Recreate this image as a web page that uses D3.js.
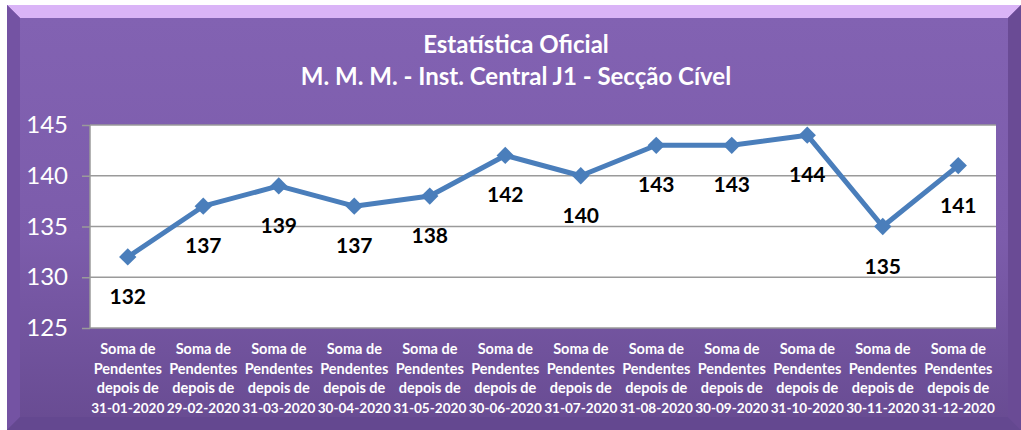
<!DOCTYPE html>
<html>
<head>
<meta charset="utf-8">
<script src="https://cdn.jsdelivr.net/npm/d3@7"></script>
<style>
  body { margin: 0; background: #ffffff; }
  svg { display: block; font-family: Lato, "Open Sans", sans-serif; }
</style>
</head>
<body>
<div id="chart"></div>
<script>
const title_lines = ['Estatística Oficial', 'M. M. M. - Inst. Central J1 - Secção Cível']
const dates = ['31-01-2020', '29-02-2020', '31-03-2020', '30-04-2020', '31-05-2020', '30-06-2020',
    '31-07-2020', '31-08-2020', '30-09-2020', '31-10-2020', '30-11-2020', '31-12-2020']
const pendentes = [132, 137, 139, 137, 138, 142, 140, 143, 143, 144, 135, 141]
const y_ticks = [125, 130, 135, 140, 145]

const width = 1021, height = 430
const margin = ({ top: 125, right: 25, bottom: 103, left: 90 })

const svg = d3.select('#chart')
    .append('svg')
    .attr('width', width)
    .attr('height', height)

const defs = svg.append('defs')
const grad = defs.append('linearGradient')
    .attr('id', 'face')
    .attr('x1', 0).attr('y1', 0).attr('x2', 0).attr('y2', 1)
grad.append('stop').attr('offset', '0%').attr('stop-color', '#8262b2')
grad.append('stop').attr('offset', '55%').attr('stop-color', '#7c5cab')
grad.append('stop').attr('offset', '100%').attr('stop-color', '#694c93')

// bevelled frame
const fx0 = 7, fy0 = 5, fx1 = 1021, fy1 = 430, b = 13
svg.append('rect')
    .attr('x', fx0).attr('y', fy0)
    .attr('width', fx1 - fx0).attr('height', fy1 - fy0)
    .attr('fill', '#6e4f9a')
svg.append('polygon')
    .attr('points', `${fx0},${fy0} ${fx1},${fy0} ${fx1 - b},${fy0 + b} ${fx0 + b},${fy0 + b}`)
    .attr('fill', '#dab4f7')
svg.append('polygon')
    .attr('points', `${fx0},${fy0} ${fx0 + b},${fy0 + b} ${fx0 + b},${fy1 - b} ${fx0},${fy1}`)
    .attr('fill', '#7453a3')
svg.append('polygon')
    .attr('points', `${fx1},${fy0} ${fx1 - b},${fy0 + b} ${fx1 - b},${fy1 - b} ${fx1},${fy1}`)
    .attr('fill', '#6a4b95')
svg.append('polygon')
    .attr('points', `${fx0},${fy1} ${fx0 + b},${fy1 - b} ${fx1 - b},${fy1 - b} ${fx1},${fy1}`)
    .attr('fill', '#644890')
svg.append('rect')
    .attr('x', fx0 + b).attr('y', fy0 + b)
    .attr('width', fx1 - fx0 - 2 * b).attr('height', fy1 - fy0 - 2 * b)
    .attr('fill', 'url(#face)')

svg.append('g')
    .selectAll('text')
    .data(title_lines)
    .join('text')
    .attr('x', 516)
    .attr('y', (d, i) => 53 + i * 32)
    .attr('text-anchor', 'middle')
    .attr('fill', '#ffffff')
    .attr('font-size', 24)
    .attr('font-weight', 'bold')
    .text(d => d)

const x = d3.scaleBand()
    .domain(dates)
    .range([margin.left, 996])
const y = d3.scaleLinear()
    .domain([125, 145])
    .range([height - margin.bottom + 1, margin.top])

svg.append('rect')
    .attr('x', margin.left)
    .attr('y', margin.top)
    .attr('width', x.range()[1] - margin.left)
    .attr('height', y(125) - margin.top)
    .attr('fill', '#ffffff')

// grid + y axis
const yAxis = g => g
    .attr('transform', `translate(${margin.left},0)`)
    .call(d3.axisLeft(y).tickValues(y_ticks).tickSize(8).tickPadding(14))
    .call(g => g.select('.domain').remove())
    .call(g => g.selectAll('.tick line').attr('stroke', '#9a9a9a').attr('stroke-width', 1.5))
    .call(g => g.selectAll('.tick text')
        .attr('fill', '#ffffff')
        .attr('font-size', 24)
        .attr('font-family', 'Lato, "Open Sans", sans-serif'))

svg.append('g')
    .selectAll('line')
    .data(y_ticks)
    .join('line')
    .attr('x1', margin.left)
    .attr('x2', x.range()[1])
    .attr('y1', d => y(d))
    .attr('y2', d => y(d))
    .attr('stroke', '#9a9a9a')
    .attr('stroke-width', 1.5)

svg.append('line')
    .attr('x1', margin.left).attr('x2', margin.left)
    .attr('y1', margin.top).attr('y2', y(125))
    .attr('stroke', '#9a9a9a')
    .attr('stroke-width', 1.5)

svg.append('g').call(yAxis)

// x labels
const xl = svg.append('g')
    .selectAll('text')
    .data(dates)
    .join('text')
    .attr('text-anchor', 'middle')
    .attr('fill', '#ffffff')
    .attr('font-size', 14.5)
    .attr('font-weight', 'bold')
    .attr('transform', d => `translate(${x(d) + x.bandwidth() / 2},0)`)
xl.selectAll('tspan')
    .data(d => ['Soma de', 'Pendentes', 'depois de', d])
    .join('tspan')
    .attr('x', 0)
    .attr('y', (d, i) => 354 + i * 19.6)
    .attr('font-size', (d, i) => i == 3 ? 13.6 : null)
    .text(d => d)

const cx = (d, i) => x(dates[i]) + x.bandwidth() / 2

const line = d3.line()
    .x((d, i) => cx(d, i))
    .y(d => y(d))

svg.append('path')
    .datum(pendentes)
    .attr('fill', 'none')
    .attr('stroke', '#4a7ebb')
    .attr('stroke-width', 5)
    .attr('stroke-linejoin', 'round')
    .attr('d', line)

svg.append('g')
    .selectAll('path')
    .data(pendentes)
    .join('path')
    .attr('d', d3.symbol(d3.symbolSquare, 150))
    .attr('transform', (d, i) => `translate(${cx(d, i)},${y(d)}) rotate(45)`)
    .attr('fill', '#4a7ebb')

svg.append('g')
    .selectAll('text')
    .data(pendentes)
    .join('text')
    .attr('x', (d, i) => cx(d, i))
    .attr('y', d => y(d) + 47)
    .attr('text-anchor', 'middle')
    .attr('fill', '#000000')
    .attr('font-size', 21)
    .attr('font-weight', 'bold')
    .text(d => d)
</script>
</body>
</html>
